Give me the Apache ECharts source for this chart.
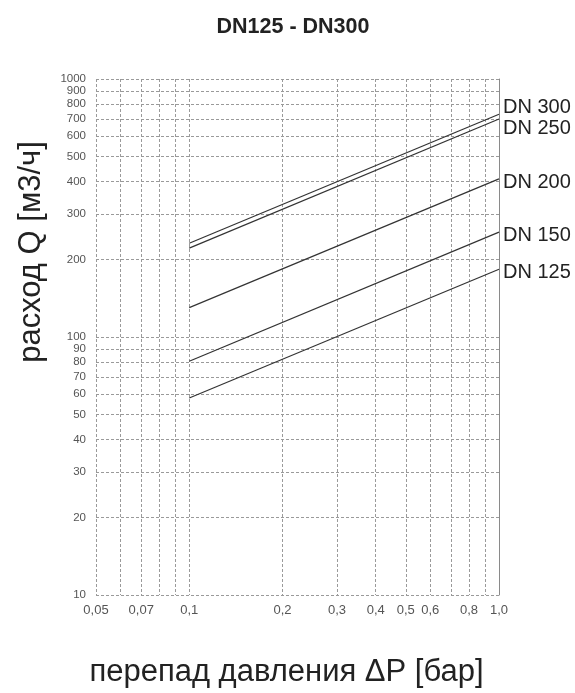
<!DOCTYPE html>
<html><head><meta charset="utf-8">
<script src="https://cdn.jsdelivr.net/npm/echarts@6/dist/echarts.min.js"></script>
<style>html,body{margin:0;padding:0;background:#fff}#c{width:575px;height:693px}</style>
</head><body><div id="c"></div>
<script>
// ---- data ----
const title = 'DN125 - DN300';
const xName = 'перепад давления ΔP [бар]';
const yName = 'расход Q [м3/ч]';
const pressure = [0.1, 1.0];
const seriesNames = ['DN 300', 'DN 250', 'DN 200', 'DN 150', 'DN 125'];
const dn300 = [231, 730];
const dn250 = [221, 700];
const dn200 = [130, 410];
const dn150 = [80.5, 255];
const dn125 = [58, 183];
const xGridValues = [0.05,0.06,0.07,0.08,0.09,0.1,0.2,0.3,0.4,0.5,0.6,0.7,0.8,0.9,1.0];
const xLabelValues = [0.05,0.07,0.1,0.2,0.3,0.4,0.5,0.6,0.8,1.0];
const xLabelTexts = ['0,05','0,07','0,1','0,2','0,3','0,4','0,5','0,6','0,8','1,0'];
const yGridValues = [10,20,30,40,50,60,70,80,90,100,200,300,400,500,600,700,800,900,1000];
const yLabelValues = yGridValues;
const labelOffsets = [[0,-7],[0,10],[0,3.5],[0,3],[0,3]];

const seriesData = [dn300, dn250, dn200, dn150, dn125];
const FONT = 'Liberation Sans, Arial, sans-serif';

function nearestLabel(v){
  let best = 0, bd = Infinity;
  xLabelValues.forEach((x,i)=>{const d=Math.abs(Math.log(x)-Math.log(v)); if(d<bd){bd=d;best=i;}});
  return xLabelTexts[best];
}

const chart = echarts.init(document.getElementById('c'), null, {renderer:'canvas'});
const splitStyle = {show:true, lineStyle:{color:'#9a9a9a', type:[3,2], width:1}};
chart.setOption({
  animation:false,
  backgroundColor:'#fff',
  title:{text:title, left:288, textAlign:'center', top:11,
    textStyle:{fontFamily:FONT, fontSize:21.5, fontWeight:'bold', color:'#222'}},
  grid:{left:96, right:76, top:79, bottom:96},
  xAxis:{type:'log', logBase:10, min:0.05, max:1.0,
    name:xName, nameLocation:'middle', nameGap:62,
    nameTextStyle:{fontFamily:FONT, fontSize:31, color:'#222', padding:[0,22,0,0]},
    axisLine:{show:false}, axisTick:{show:false, customValues:xGridValues},
    axisLabel:{customValues:xLabelValues, formatter:v=>nearestLabel(v),
      showMinLabel:true, showMaxLabel:true, hideOverlap:false,
      fontFamily:FONT, fontSize:13, color:'#555', margin:9},
    splitLine:splitStyle, minorSplitLine:{show:false}},
  yAxis:[{type:'log', logBase:10, min:10, max:1000,
    axisLine:{show:false}, axisTick:{show:false, customValues:yGridValues},
    axisLabel:{customValues:yLabelValues, formatter:v=>String(Math.round(v)),
      showMinLabel:true, showMaxLabel:true, hideOverlap:false,
      fontFamily:FONT, fontSize:11.5, color:'#555', margin:10},
    splitLine:splitStyle},
    {type:'log', logBase:10, min:10, max:1000, position:'right',
     axisLine:{show:true, lineStyle:{color:'#8a8a8a', width:1}},
     axisTick:{show:false}, axisLabel:{show:false}, splitLine:{show:false}}],
  graphic:[{type:'text', x:31, y:252, rotation:Math.PI/2,
    style:{text:yName, fontFamily:FONT, fontSize:31, fill:'#222', align:'center', verticalAlign:'middle'}}],
  series: seriesNames.map((n,i)=>({
    name:n, type:'line', symbol:'none', silent:true,
    data: pressure.map((p,j)=>[p, seriesData[i][j]]),
    lineStyle:{color:'#333', width:1.2},
    endLabel:{show:true, formatter:n, offset:labelOffsets[i], distance:4,
      fontFamily:FONT, fontSize:20, color:'#222'}
  }))
});
</script></body></html>
